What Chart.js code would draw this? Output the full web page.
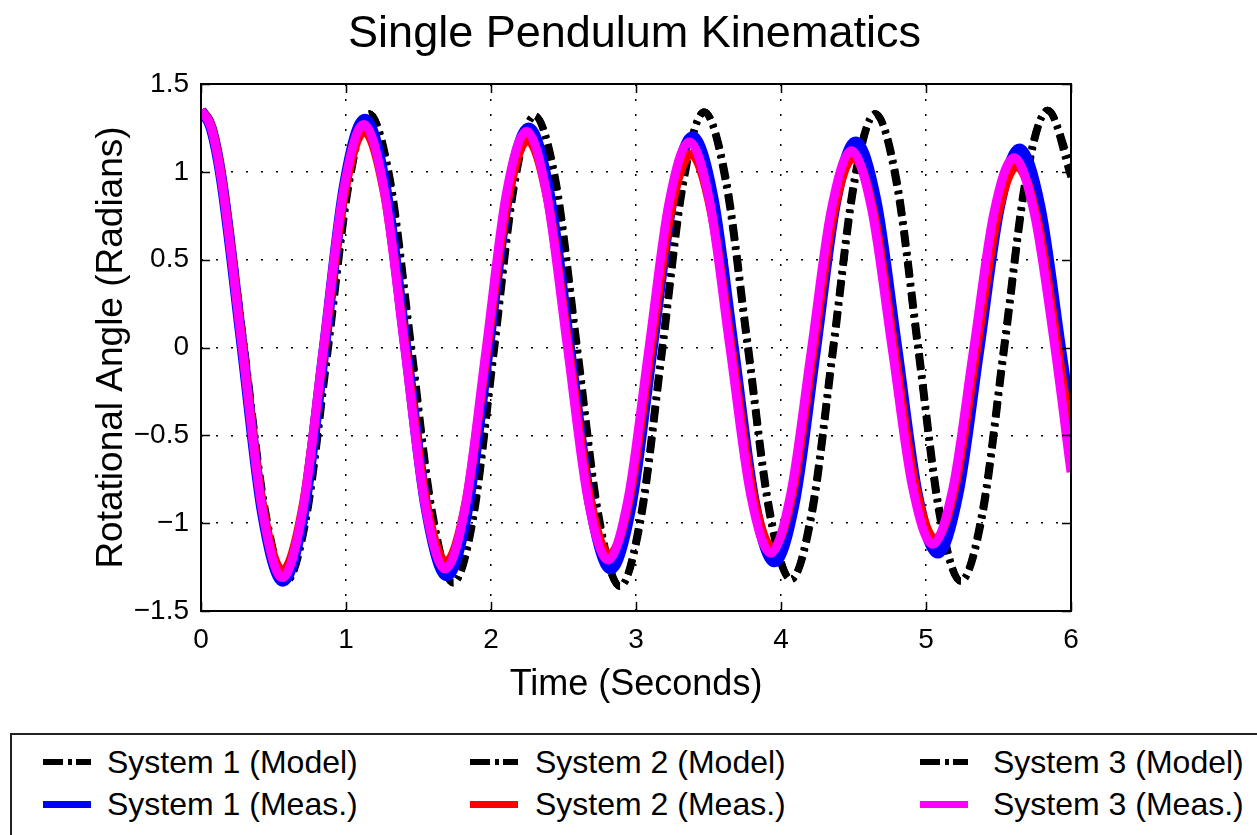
<!DOCTYPE html>
<html>
<head>
<meta charset="utf-8">
<title>Single Pendulum Kinematics</title>
<script src="https://cdn.jsdelivr.net/npm/chart.js@4.4.1/dist/chart.umd.min.js"></script>
<style>
  html, body { margin: 0; padding: 0; background: #fff; }
  body { width: 1257px; height: 835px; position: relative; overflow: hidden; font-family: "Liberation Sans", Arial, sans-serif; }
  #wrap { position: absolute; left: 0; top: 0; width: 1257px; height: 725px; }
  #legendBox { position: absolute; left: 10px; top: 733px; width: 1262px; height: 130px; border: 2px solid #222; box-sizing: border-box; }
  .lg-text { position: absolute; font-size: 32px; line-height: 36px; color: #000; white-space: nowrap; }
  .lg-seg { position: absolute; }
</style>
</head>
<body>
<div id="wrap"><canvas id="chart"></canvas></div>
<div id="legendBox"></div>
<script>
// values
const modelTime = [0, 0.074, 0.148, 0.295, 0.443, 0.59, 0.73, 0.875, 1.02, 1.16, 1.305, 1.45, 1.595, 1.74, 1.88, 2.02, 2.16, 2.30, 2.448, 2.595, 2.743, 2.89, 3.035, 3.18, 3.325, 3.47, 3.62, 3.77, 3.92, 4.07, 4.215, 4.36, 4.505, 4.65, 4.798, 4.945, 5.093, 5.24, 5.39, 5.54, 5.69, 5.84, 6.0];
const model1 = [1.35, 1.26, 0.96, 0.01, -0.94, -1.33, -0.94, 0.00, 0.94, 1.33, 0.94, -0.01, -0.95, -1.34, -0.95, -0.01, 0.93, 1.32, 0.93, -0.02, -0.97, -1.36, -0.96, -0.01, 0.94, 1.34, 0.95, 0.01, -0.93, -1.32, -0.93, 0.00, 0.94, 1.33, 0.94, 0.00, -0.94, -1.33, -0.94, 0.01, 0.96, 1.35, 1.00];
const model2 = [1.35, 1.27, 0.97, 0.03, -0.92, -1.33, -0.96, -0.03, 0.92, 1.33, 0.96, 0.02, -0.93, -1.34, -0.97, -0.04, 0.91, 1.32, 0.95, 0.01, -0.95, -1.36, -0.98, -0.04, 0.92, 1.34, 0.97, 0.04, -0.91, -1.32, -0.95, -0.03, 0.92, 1.33, 0.96, 0.03, -0.92, -1.33, -0.96, -0.02, 0.94, 1.35, 1.03];
const model3 = [1.35, 1.25, 0.95, -0.01, -0.96, -1.33, -0.92, 0.02, 0.96, 1.33, 0.92, -0.03, -0.97, -1.34, -0.93, 0.01, 0.95, 1.32, 0.91, -0.04, -0.99, -1.36, -0.94, 0.01, 0.96, 1.34, 0.93, -0.01, -0.95, -1.32, -0.91, 0.02, 0.96, 1.33, 0.92, -0.02, -0.96, -1.33, -0.92, 0.03, 0.98, 1.35, 0.97];

const meas1Time = [0, 0.07, 0.141, 0.283, 0.424, 0.565, 0.706, 0.848, 0.989, 1.13, 1.271, 1.413, 1.554, 1.695, 1.836, 1.978, 2.119, 2.26, 2.401, 2.543, 2.684, 2.825, 2.966, 3.108, 3.249, 3.39, 3.531, 3.673, 3.814, 3.955, 4.095, 4.235, 4.375, 4.515, 4.656, 4.798, 4.939, 5.08, 5.221, 5.363, 5.504, 5.645, 5.786, 5.927, 6.0];
const meas1 = [1.35, 1.25, 0.96, 0.01, -0.94, -1.33, -0.95, -0.02, 0.92, 1.30, 0.92, 0.00, -0.92, -1.30, -0.93, -0.03, 0.88, 1.25, 0.88, -0.01, -0.89, -1.26, -0.90, -0.03, 0.84, 1.20, 0.85, -0.01, -0.87, -1.22, -0.87, -0.03, 0.82, 1.17, 0.83, 0.00, -0.83, -1.17, -0.83, -0.02, 0.79, 1.13, 0.80, 0.00, -0.42];

const meas2Time = [0, 0.07, 0.141, 0.282, 0.422, 0.563, 0.704, 0.845, 0.985, 1.126, 1.267, 1.408, 1.548, 1.689, 1.83, 1.971, 2.112, 2.253, 2.394, 2.535, 2.675, 2.816, 2.957, 3.098, 3.238, 3.379, 3.52, 3.661, 3.801, 3.942, 4.082, 4.221, 4.361, 4.5, 4.641, 4.782, 4.922, 5.063, 5.204, 5.345, 5.485, 5.626, 5.767, 5.908, 6.0];
const meas2 = [1.35, 1.26, 0.97, 0.04, -0.89, -1.27, -0.90, -0.02, 0.86, 1.23, 0.87, 0.01, -0.86, -1.22, -0.87, -0.02, 0.83, 1.18, 0.83, 0.00, -0.83, -1.18, -0.85, -0.04, 0.77, 1.10, 0.77, -0.02, -0.81, -1.14, -0.82, -0.03, 0.76, 1.08, 0.76, -0.01, -0.77, -1.09, -0.78, -0.03, 0.72, 1.03, 0.73, 0.00, -0.52];

const meas3Time = [0, 0.07, 0.14, 0.281, 0.421, 0.561, 0.701, 0.842, 0.982, 1.122, 1.263, 1.403, 1.544, 1.684, 1.824, 1.965, 2.105, 2.245, 2.385, 2.526, 2.666, 2.806, 2.946, 3.087, 3.227, 3.367, 3.508, 3.648, 3.789, 3.929, 4.068, 4.207, 4.346, 4.485, 4.625, 4.766, 4.906, 5.046, 5.186, 5.327, 5.467, 5.607, 5.748, 5.889, 6.0];
const meas3 = [1.35, 1.25, 0.96, 0.02, -0.92, -1.31, -0.93, -0.02, 0.89, 1.27, 0.90, 0.01, -0.89, -1.26, -0.90, -0.02, 0.87, 1.23, 0.87, 0.01, -0.85, -1.21, -0.86, -0.02, 0.82, 1.17, 0.83, 0.00, -0.83, -1.17, -0.83, -0.03, 0.78, 1.12, 0.79, 0.00, -0.79, -1.12, -0.80, -0.02, 0.76, 1.08, 0.76, 0.00, -0.71];

const xTicks = [0, 1, 2, 3, 4, 5, 6];
const yTicks = [-1.5, -1, -0.5, 0, 0.5, 1, 1.5];

const labels = ["System 1 (Model)", "System 2 (Model)", "System 3 (Model)",
                "System 1 (Meas.)", "System 2 (Meas.)", "System 3 (Meas.)"];

const FONT = "'Liberation Sans', Arial, Helvetica, sans-serif";
Chart.defaults.font.family = FONT;
Chart.defaults.color = "#000";

function toPoints(t, v) {
    return t.map((x, i) => ({x: x, y: v[i]}));
}

const dashStyle = [16, 6, 3, 6];

function modelSet(label, t, v) {
    return {
        label: label,
        data: toPoints(t, v),
        borderColor: "#000",
        borderWidth: 7,
        borderDash: dashStyle,
        pointRadius: 0,
        order: 10
    };
}

function measSet(label, t, v, color, width, order) {
    return {
        label: label,
        data: toPoints(t, v),
        borderColor: color,
        borderWidth: width,
        pointRadius: 0,
        order: order
    };
}

const datasets = [
    modelSet(labels[0], modelTime, model1),
    modelSet(labels[1], modelTime, model2),
    modelSet(labels[2], modelTime, model3),
    measSet(labels[3], meas1Time, meas1, "#0000ff", 11, 3),
    measSet(labels[4], meas2Time, meas2, "#ff0000", 9, 2),
    measSet(labels[5], meas3Time, meas3, "#ff00ff", 9, 1)
];

// inward tick marks on all four sides + box outline
const boxTicks = {
    id: "boxTicks",
    afterDraw(chart) {
        const {ctx, chartArea: a, scales: {x, y}} = chart;
        ctx.save();
        ctx.strokeStyle = "#000";
        ctx.lineWidth = 1.5;
        ctx.beginPath();
        xTicks.forEach(v => {
            const px = Math.round(x.getPixelForValue(v)) + 0.5;
            ctx.moveTo(px, a.bottom); ctx.lineTo(px, a.bottom - 9);
            ctx.moveTo(px, a.top); ctx.lineTo(px, a.top + 9);
        });
        yTicks.forEach(v => {
            const py = Math.round(y.getPixelForValue(v)) + 0.5;
            ctx.moveTo(a.left, py); ctx.lineTo(a.left + 9, py);
            ctx.moveTo(a.right, py); ctx.lineTo(a.right - 9, py);
        });
        ctx.stroke();
        ctx.lineWidth = 2;
        ctx.strokeRect(a.left, a.top, a.right - a.left, a.bottom - a.top);
        ctx.restore();
    }
};

const minus = v => (v < 0 ? "\u2212" : "") + Math.abs(v);

const myChart = new Chart(document.getElementById("chart"), {
    type: "line",
    data: { datasets: datasets },
    options: {
        responsive: true,
        maintainAspectRatio: false,
        animation: false,
        events: [],
        layout: { padding: { left: 12, right: 0, top: 0, bottom: 0 } },
        elements: { line: { cubicInterpolationMode: "monotone", borderCapStyle: "butt" } },
        plugins: {
            legend: { display: false },
            tooltip: { enabled: false },
            title: {
                display: true,
                text: "Single Pendulum Kinematics",
                color: "#000",
                font: { size: 45, weight: "normal" },
                padding: { top: 8, bottom: 22 }
            }
        },
        scales: {
            x: {
                type: "linear",
                min: 0,
                max: 6,
                afterFit(scale) { scale.height = 114; },
                afterBuildTicks(scale) { scale.ticks = xTicks.map(v => ({value: v})); },
                ticks: { font: { size: 28 }, padding: 12, color: "#000", callback: minus, maxRotation: 0 },
                grid: { color: "#000", lineWidth: 1.5, drawTicks: false },
                border: { display: false, dash: [2, 13] },
                title: {
                    display: true,
                    text: "Time (Seconds)",
                    color: "#000",
                    font: { size: 36 },
                    padding: { top: 0, bottom: 18 }
                }
            },
            y: {
                type: "linear",
                min: -1.5,
                max: 1.5,
                afterFit(scale) { scale.width = 189; },
                afterBuildTicks(scale) { scale.ticks = yTicks.map(v => ({value: v})); },
                ticks: { font: { size: 28 }, padding: 12, color: "#000", callback: minus },
                grid: { color: "#000", lineWidth: 1.5, drawTicks: false },
                border: { display: false, dash: [2, 13] },
                title: {
                    display: true,
                    text: "Rotational Angle (Radians)",
                    color: "#000",
                    font: { size: 37 },
                    padding: { top: 78, bottom: 0 }
                }
            },
            // empty right-hand space so the plot box ends where the reference does
            yRight: {
                type: "linear",
                position: "right",
                min: -1.5,
                max: 1.5,
                afterFit(scale) { scale.width = 186; },
                ticks: { display: false },
                grid: { display: false, drawTicks: false },
                border: { display: false }
            }
        }
    },
    plugins: [boxTicks]
});

// legend laid out like the reference grid: 3 columns x 2 rows
const legendCols = [43, 470, 920];
const legendTextX = [107, 535, 993];
const legendRows = [762, 804];
const legendColors = ["#000", "#000", "#000", "#0000ff", "#ff0000", "#ff00ff"];

function addSeg(left, top, w, h, color) {
    const d = document.createElement("div");
    d.className = "lg-seg";
    d.style.left = left + "px";
    d.style.top = top + "px";
    d.style.width = w + "px";
    d.style.height = h + "px";
    d.style.background = color;
    document.body.appendChild(d);
}

labels.forEach((label, i) => {
    const col = i % 3;
    const row = Math.floor(i / 3);
    const cy = legendRows[row];
    const sx = legendCols[col];
    if (row === 0) {
        addSeg(sx, cy - 3, 20, 6, "#000");
        addSeg(sx + 25, cy - 3, 4, 6, "#000");
        addSeg(sx + 33, cy - 3, 15, 6, "#000");
    } else {
        addSeg(sx, cy - 3, 48, 7, legendColors[i]);
    }
    const t = document.createElement("div");
    t.className = "lg-text";
    t.style.left = legendTextX[col] + "px";
    t.style.top = (cy - 18) + "px";
    t.textContent = label;
    document.body.appendChild(t);
});
</script>
</body>
</html>
